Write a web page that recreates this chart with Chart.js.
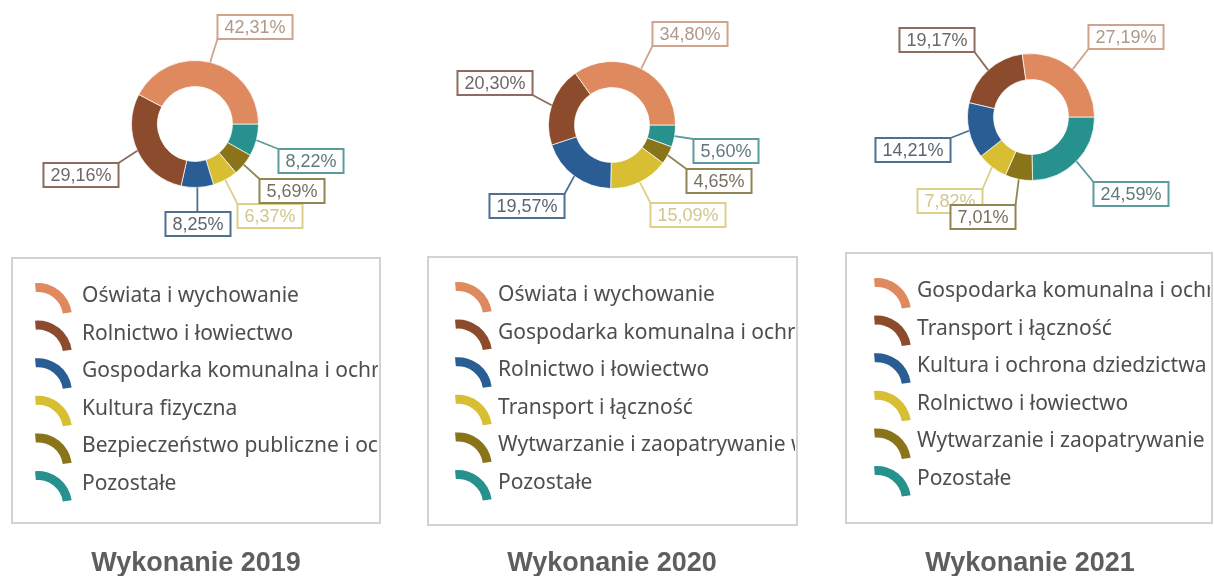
<!DOCTYPE html>
<html lang="pl">
<head>
<meta charset="utf-8">
<script src="https://cdn.jsdelivr.net/npm/chart.js@4.4.1/dist/chart.umd.min.js"></script>
<style>
  body { margin: 0; background: #fff; width: 1214px; height: 576px; overflow: hidden; position: relative; }
  canvas { position: absolute; top: 0; }
</style>
</head>
<body>
<canvas id="wyk2019" width="410" height="576" style="left:0px"></canvas>
<canvas id="wyk2020" width="400" height="576" style="left:410px"></canvas>
<canvas id="wyk2021" width="404" height="576" style="left:810px"></canvas>
<script>
// --- DANE ---
const kategorie2019 = ['Oświata i wychowanie', 'Rolnictwo i łowiectwo', 'Gospodarka komunalna i ochrona środowiska', 'Kultura fizyczna', 'Bezpieczeństwo publiczne i ochrona przeciwpożarowa', 'Pozostałe'];
const udzialy2019 = [42.31, 29.16, 8.25, 6.37, 5.69, 8.22];

const kategorie2020 = ['Oświata i wychowanie', 'Gospodarka komunalna i ochrona środowiska', 'Rolnictwo i łowiectwo', 'Transport i łączność', 'Wytwarzanie i zaopatrywanie w energię elektryczną, gaz i wodę', 'Pozostałe'];
const udzialy2020 = [34.80, 20.30, 19.57, 15.09, 4.65, 5.60];

const kategorie2021 = ['Gospodarka komunalna i ochrona środowiska', 'Transport i łączność', 'Kultura i ochrona dziedzictwa narodowego', 'Rolnictwo i łowiectwo', 'Wytwarzanie i zaopatrywanie w energię elektryczną, gaz i wodę', 'Pozostałe'];
const udzialy2021 = [27.19, 19.17, 14.21, 7.82, 7.01, 24.59];

const tytuly = ['Wykonanie 2019', 'Wykonanie 2020', 'Wykonanie 2021'];

// --- KOLORY ---
const kolory = ['#df8a5e', '#8c4b2c', '#2b5d95', '#d8be32', '#8a741a', '#27918e'];
const ramkiEtykiet = ['#d0a48c', '#8c6c5c', '#50708f', '#dcd08a', '#908654', '#5c9c9c'];
const tekstEtykiet = ['#b09888', '#6c6866', '#5a6672', '#d2c78c', '#76705e', '#607a7c'];

// --- UKŁAD (współrzędne strony) ---
const uklady = [
    { lewo: 0, srodek: [195, 124], tytulX: 196,
      etykiety: [[255, 27], [81, 175], [198, 224], [270, 216], [292, 191], [311, 161]],
      legenda: { x: 12, y: 258, w: 368, h: 265, ikonaX: 35, tekstX: 82, wiersz: 296 } },
    { lewo: 410, srodek: [612, 125], tytulX: 612,
      etykiety: [[690, 34], [495, 83], [527, 206], [688, 215], [719, 181], [726, 151]],
      legenda: { x: 428, y: 257, w: 369, h: 268, ikonaX: 455, tekstX: 498, wiersz: 295 } },
    { lewo: 810, srodek: [1031, 117], tytulX: 1030,
      etykiety: [[1126, 37], [937, 40], [913, 150], [950, 201], [983, 217], [1131, 194]],
      legenda: { x: 846, y: 253, w: 366, h: 270, ikonaX: 874, tekstX: 917, wiersz: 291 } }
];

const PROMIEN = 64;
const KROK_LEGENDY = 37.6;

function formatuj(v) {
    return v.toFixed(2).replace('.', ',') + '%';
}

// etykiety z liniami, legenda w ramce i podpis pod spodem
function pluginOpisow(kategorie, wartosci, uklad, tytul) {
    return {
        id: 'opisy',
        afterDraw(chart) {
            const ctx = chart.ctx;
            const meta = chart.getDatasetMeta(0);
            const n = wartosci.length;
            const dx = uklad.lewo;

            // --- etykiety procentowe ---
            ctx.save();
            ctx.font = '18px "Liberation Sans", Arial, sans-serif';
            ctx.textAlign = 'center';
            ctx.textBaseline = 'middle';
            for (let i = 0; i < n; i++) {
                const el = meta.data[n - 1 - i]; // dane odwrócone, łuki idą przeciwnie do zegara
                const kat = (el.startAngle + el.endAngle) / 2;
                const x0 = el.x + Math.cos(kat) * el.outerRadius;
                const y0 = el.y + Math.sin(kat) * el.outerRadius;

                const tekst = formatuj(wartosci[i]);
                const w = ctx.measureText(tekst).width + 14;
                const h = 24;
                const bx = uklad.etykiety[i][0] - dx - w / 2;
                const by = uklad.etykiety[i][1] - h / 2;
                const x1 = Math.min(Math.max(x0, bx), bx + w);
                const y1 = Math.min(Math.max(y0, by), by + h);

                ctx.strokeStyle = ramkiEtykiet[i];
                ctx.lineWidth = 1.8;
                ctx.beginPath();
                ctx.moveTo(x0, y0);
                ctx.lineTo(x1, y1);
                ctx.stroke();

                ctx.fillStyle = '#fff';
                ctx.fillRect(bx, by, w, h);
                ctx.lineWidth = 2;
                ctx.strokeRect(bx, by, w, h);

                ctx.fillStyle = tekstEtykiet[i];
                ctx.fillText(tekst, bx + w / 2, by + h / 2 + 1);
            }
            ctx.restore();

            // --- legenda ---
            const L = uklad.legenda;
            ctx.save();
            ctx.strokeStyle = '#d2d2d2';
            ctx.lineWidth = 2;
            ctx.strokeRect(L.x - dx, L.y, L.w, L.h);
            ctx.beginPath();
            ctx.rect(L.x - dx + 2, L.y + 2, L.w - 4, L.h - 4);
            ctx.clip();
            ctx.font = '21px "Noto Sans", "Liberation Sans", sans-serif';
            ctx.textBaseline = 'middle';
            ctx.textAlign = 'left';
            for (let i = 0; i < n; i++) {
                const y = L.wiersz + i * KROK_LEGENDY;
                const cx = L.ikonaX - dx + 3;
                const cy = y + 21;
                const a0 = -95 * Math.PI / 180, a1 = -8 * Math.PI / 180;
                ctx.fillStyle = kolory[i];
                ctx.beginPath();
                ctx.arc(cx, cy, 34, a0, a1);
                ctx.arc(cx, cy, 25, a1, a0, true);
                ctx.closePath();
                ctx.fill();

                ctx.fillStyle = '#4e4e4e';
                ctx.fillText(kategorie[i], L.tekstX - dx, y);
            }
            ctx.restore();

            // --- podpis ---
            ctx.save();
            ctx.font = 'bold 27px "Liberation Sans", Arial, sans-serif';
            ctx.fillStyle = '#5e5e5e';
            ctx.textAlign = 'center';
            ctx.textBaseline = 'alphabetic';
            ctx.fillText(tytul, uklad.tytulX - dx, 571);
            ctx.restore();
        }
    };
}

function rysujWykres(id, kategorie, wartosci, uklad, tytul) {
    const canvas = document.getElementById(id);
    const W = canvas.width, H = canvas.height;
    const cx = uklad.srodek[0] - uklad.lewo, cy = uklad.srodek[1];

    return new Chart(canvas, {
        type: 'doughnut',
        data: {
            labels: kategorie.slice().reverse(),
            datasets: [{
                data: wartosci.slice().reverse(),
                backgroundColor: kolory.slice().reverse(),
                borderColor: 'rgba(255,255,255,0.7)',
                borderWidth: 1
            }]
        },
        options: {
            responsive: false,
            animation: false,
            events: [],
            cutout: '59%',
            rotation: 90, // start na godzinie 3
            layout: {
                padding: {
                    left: cx - PROMIEN,
                    right: W - cx - PROMIEN,
                    top: cy - PROMIEN,
                    bottom: H - cy - PROMIEN
                }
            },
            plugins: {
                legend: { display: false },
                tooltip: { enabled: false }
            }
        },
        plugins: [pluginOpisow(kategorie, wartosci, uklad, tytul)]
    });
}

rysujWykres('wyk2019', kategorie2019, udzialy2019, uklady[0], tytuly[0]);
rysujWykres('wyk2020', kategorie2020, udzialy2020, uklady[1], tytuly[1]);
rysujWykres('wyk2021', kategorie2021, udzialy2021, uklady[2], tytuly[2]);
</script>
</body>
</html>
